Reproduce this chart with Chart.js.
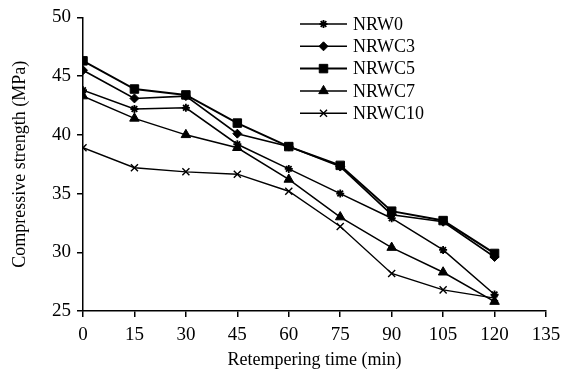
<!DOCTYPE html>
<html>
<head>
<meta charset="utf-8">
<script src="https://cdn.jsdelivr.net/npm/chart.js@4/dist/chart.umd.min.js"></script>
<style>
html,body{margin:0;padding:0;background:#fff;}
#wrap{width:569px;height:375px;position:relative;}
</style>
</head>
<body>
<div id="wrap"><canvas id="c" width="569" height="375"></canvas></div>
<script>
const times = [0, 15, 30, 45, 60, 75, 90, 105, 120];
const seriesNames = ["NRW0", "NRWC3", "NRWC5", "NRWC7", "NRWC10"];
const NRW0   = [43.8, 42.2, 42.3, 39.2, 37.1, 35.0, 32.9, 30.2, 26.4];
const NRWC3  = [45.5, 43.1, 43.3, 40.1, 39.0, 37.3, 33.2, 32.6, 29.6];
const NRWC5  = [46.3, 43.9, 43.4, 41.0, 39.0, 37.4, 33.5, 32.7, 29.9];
const NRWC7  = [43.3, 41.4, 40.0, 38.9, 36.2, 33.0, 30.4, 28.3, 25.8];
const NRWC10 = [38.9, 37.2, 36.85, 36.65, 35.2, 32.2, 28.2, 26.8, 26.1];
const xTicks = [0, 15, 30, 45, 60, 75, 90, 105, 120, 135];
const yTicks = [25, 30, 35, 40, 45, 50];

const FONT = "'Liberation Serif', 'Times New Roman', serif";
const allValues = [NRW0, NRWC3, NRWC5, NRWC7, NRWC10];
const styles = [
  {pointStyle: 'star', radius: 4, bw: 1.8, lw: 1.5},
  {pointStyle: 'rectRot', radius: 4.5, bw: 1, lw: 1.6},
  {pointStyle: 'rect', radius: 6, bw: 1, lw: 2},
  {pointStyle: 'triangle', radius: 5.5, bw: 1, lw: 1.5},
  {pointStyle: 'crossRot', radius: 5, bw: 1.4, lw: 1.4}
];

const datasets = seriesNames.map((name, i) => ({
  label: name,
  data: times.map((t, j) => ({x: t, y: allValues[i][j]})),
  borderColor: '#000',
  backgroundColor: '#000',
  borderWidth: styles[i].lw,
  pointStyle: styles[i].pointStyle,
  pointRadius: styles[i].radius,
  pointBorderWidth: styles[i].bw,
  pointBackgroundColor: '#000',
  pointBorderColor: '#000',
  tension: 0,
  fill: false
}));

const legendPlugin = {
  id: 'inLegend',
  afterDraw(chart) {
    const ctx = chart.ctx;
    ctx.save();
    chart.data.datasets.forEach((ds, i) => {
      const y = 24 + i * 22.3;
      ctx.strokeStyle = '#000';
      ctx.lineWidth = ds.borderWidth;
      ctx.beginPath();
      ctx.moveTo(300, y);
      ctx.lineTo(347, y);
      ctx.stroke();
      ctx.fillStyle = '#000';
      ctx.lineWidth = ds.pointBorderWidth;
      Chart.helpers.drawPoint(ctx, {pointStyle: ds.pointStyle, radius: ds.pointRadius, rotation: 0, borderWidth: ds.pointBorderWidth}, 323.5, y);
      ctx.font = "18px " + FONT;
      ctx.textAlign = 'left';
      ctx.textBaseline = 'middle';
      ctx.fillText(ds.label, 353, y + 1);
    });
    ctx.restore();
  }
};

new Chart(document.getElementById('c'), {
  type: 'line',
  data: {datasets},
  plugins: [legendPlugin],
  options: {
    responsive: false,
    animation: false,
    layout: {padding: {top: 15, right: 23, left: 0, bottom: 0}},
    plugins: {legend: {display: false}, tooltip: {enabled: false}},
    scales: {
      x: {
        type: 'linear',
        min: 0, max: 135,
        afterBuildTicks(scale) { scale.ticks = xTicks.map(v => ({value: v})); },
        afterFit(scale) { scale.height = 64; },
        grid: {display: true, drawOnChartArea: false, drawTicks: true, tickLength: 6, color: '#000', lineWidth: 1.5},
        border: {display: true, color: '#000', width: 1.5},
        ticks: {color: '#000', font: {family: FONT, size: 19}, padding: 7, maxRotation: 0},
        title: {display: true, text: 'Retempering time (min)', color: '#000', font: {family: FONT, size: 18}, padding: {top: 0, bottom: 4}}
      },
      y: {
        type: 'linear',
        min: 25, max: 50,
        afterBuildTicks(scale) { scale.ticks = yTicks.map(v => ({value: v})); },
        afterFit(scale) { scale.width = 83; },
        grid: {display: true, drawOnChartArea: false, drawTicks: true, tickLength: 6, color: '#000', lineWidth: 1.5},
        border: {display: true, color: '#000', width: 1.5},
        ticks: {color: '#000', font: {family: FONT, size: 19}, padding: 6},
        title: {display: true, text: 'Compressive strength (MPa)', color: '#000', font: {family: FONT, size: 18}, padding: {top: 9, bottom: 0}}
      }
    }
  }
});
</script>
</body>
</html>
